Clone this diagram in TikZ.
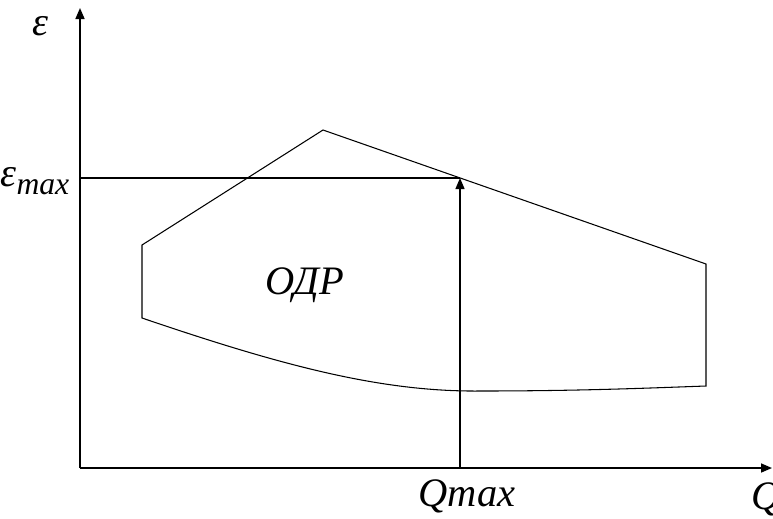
\documentclass[tikz,border=0pt]{standalone}
\usepackage{fontspec}
\setmainfont{Liberation Serif}
\usetikzlibrary{arrows.meta}
\tikzset{
  AX/.style={line width=0.45pt,-{Triangle[width=0.09cm,length=0.11cm]}},
  LN/.style={line width=0.3pt},
  lbl/.style={font=\fontsize{11.5}{13}\selectfont\itshape,inner sep=0pt},
}

\begin{document}
\begin{tikzpicture}[x=0.01cm,y=-0.01cm]
\useasboundingbox (0,0) rectangle (773,518);

% Axes
\coordinate (o)  at ( 80,468);
\coordinate (ye) at ( 80,  8);
\coordinate (xe) at (772,468);
\draw[AX](o)--(ye);
\draw[AX](o)--(xe);

% Region corners
\coordinate (a) at (142,245);
\coordinate (b) at (323,130);
\coordinate (c) at (706,264);
\coordinate (d) at (706,386);
\coordinate (e) at (142,318);
\draw[LN](a)--(b)--(c)--(d)
  ..controls (650,388) and (580,391)..(480,391)
  ..controls (380,392) and (280,365)..(e)--cycle;

% Max level
\coordinate (em) at ( 80,178);
\coordinate (qb) at (460,468);
\coordinate (qt) at (460,178);
\draw[LN](em)--(qt);
\draw[AX,line width=0.35pt](qb)--(qt);

% Labels
\node[lbl](eps)  at ( 40, 26){ε};
\node[lbl,anchor=east](epsm) at ( 70,181){ε\raisebox{-0.45ex}{\fontsize{9}{10}\selectfont max}};
\node[lbl](odr)  at (305,285){ОДР};
\node[lbl](qmax) at (467,496){Qmax};
\node[lbl,anchor=west](q) at (751,499){Q};

\end{tikzpicture}
\end{document}
